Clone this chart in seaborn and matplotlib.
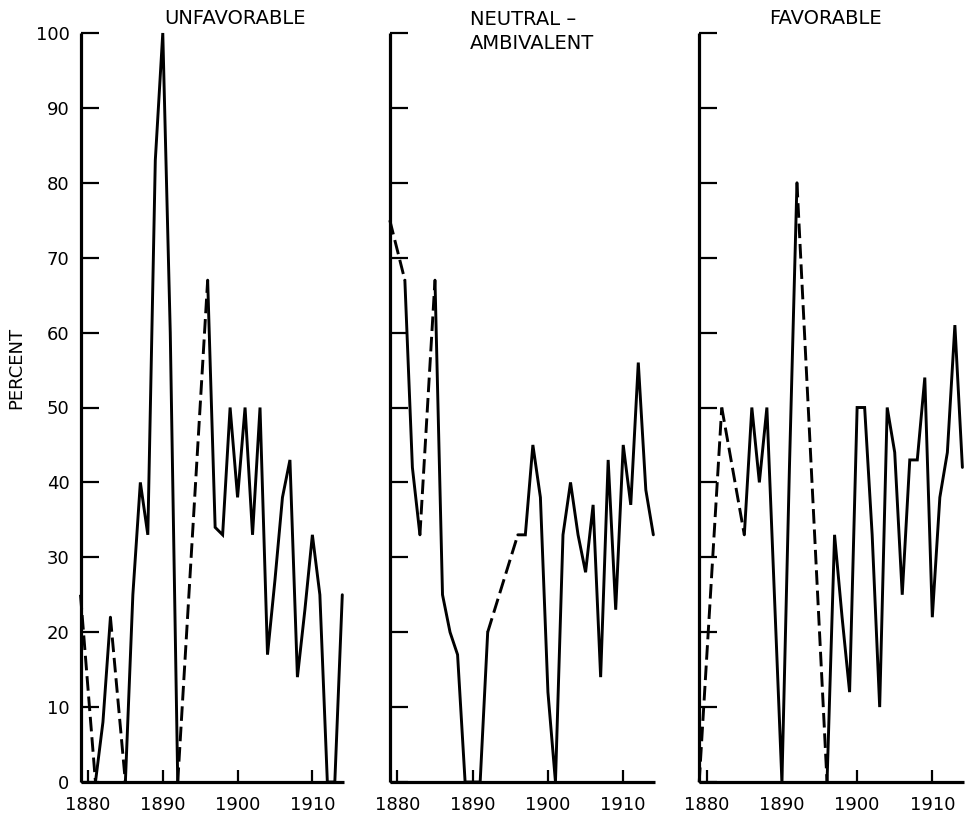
import matplotlib
matplotlib.use("Agg")
import matplotlib.pyplot as plt
import pandas as pd
import seaborn as sns

# ---------------- data ----------------
years = list(range(1879, 1915))
# None = year not plotted (bridged by a dashed line)
unfavorable = [25, None, 0, 8, 22, None, 0, 25, 40, 33, 83, 100, 60, 0,
               None, None, None, 67, 34, 33, 50, 38, 50, 33, 50, 17, 27,
               38, 43, 14, 23, 33, 25, 0, 0, 25]
neutral = [75, None, 67, 42, 33, None, 67, 25, 20, 17, 0, 0, 0, 20,
           None, None, None, 33, 33, 45, 38, 12, 0, 33, 40, 33, 28,
           37, 14, 43, 23, 45, 37, 56, 39, 33]
favorable = [0, None, None, 50, None, None, 33, 50, 40, 50, 25, 0, 42, 80,
             None, None, None, 0, 33, 22, 12, 50, 50, 33, 10, 50, 44,
             25, 43, 43, 54, 22, 38, 44, 61, 42]
panel_titles = ["UNFAVORABLE", "NEUTRAL –\nAMBIVALENT", "FAVORABLE"]
y_ticks = [0, 10, 20, 30, 40, 50, 60, 70, 80, 90, 100]
x_ticks = [1880, 1890, 1900, 1910]
y_label = "PERCENT"

series = [unfavorable, neutral, favorable]


def build_segments(values):
    pts = [(y, v) for y, v in zip(years, values) if v is not None]
    rows = []
    seg = 0
    run = [pts[0]]
    for prev, cur in zip(pts[:-1], pts[1:]):
        if cur[0] - prev[0] == 1:
            run.append(cur)
        else:
            for y, v in run:
                rows.append(dict(year=y, percent=v, seg=seg, kind="solid"))
            seg += 1
            for y, v in (prev, cur):
                rows.append(dict(year=y, percent=v, seg=seg, kind="gap"))
            seg += 1
            run = [cur]
    for y, v in run:
        rows.append(dict(year=y, percent=v, seg=seg, kind="solid"))
    return pd.DataFrame(rows)


# ---------------- figure ----------------
sns.set_style("white")
plt.rcParams["font.family"] = ["DejaVu Sans"]
plt.rcParams["text.color"] = "black"
plt.rcParams["axes.labelcolor"] = "black"
plt.rcParams["xtick.color"] = "black"
plt.rcParams["ytick.color"] = "black"
plt.rcParams["lines.solid_joinstyle"] = "miter"
plt.rcParams["lines.dash_joinstyle"] = "miter"

W, H = 968, 815
fig = plt.figure(figsize=(W / 100, H / 100), dpi=100)

# axes placement in pixels: (x of 1879, px per year)
panels_px = [(80.5, 7.48), (389.8, 7.53), (699.2, 7.52)]
x_lo, x_hi = 1879, 1914.2
y_top_px, y_bot_px = 33, 782

for i, (vals, title, (x0, ppy)) in enumerate(zip(series, panel_titles, panels_px)):
    width = (x_hi - x_lo) * ppy
    ax = fig.add_axes([x0 / W, (H - y_bot_px) / H, width / W,
                       (y_bot_px - y_top_px) / H])
    df = build_segments(vals)
    sns.lineplot(data=df, x="year", y="percent", units="seg", style="kind",
                 dashes={"solid": "", "gap": (5.0, 2.0)}, estimator=None,
                 color="black", linewidth=2.1, legend=False, sort=False,
                 ax=ax)
    for ln in ax.lines:
        ln.set_clip_on(False)
    ax.set_xlim(x_lo, x_hi)
    ax.set_ylim(0, 100)
    ax.set_xticks(x_ticks)
    ax.set_xticklabels([str(t) for t in x_ticks])
    ax.set_yticks(y_ticks)
    ax.set_yticklabels([str(t) for t in y_ticks])
    ax.set_xlabel("")
    ax.set_ylabel("")
    for s in ["top", "right"]:
        ax.spines[s].set_visible(False)
    for s in ["left", "bottom"]:
        ax.spines[s].set_linewidth(2.3)
        ax.spines[s].set_color("black")
        ax.spines[s].set_capstyle("butt")
    ax.tick_params(axis="y", which="major", left=True, direction="in",
                   length=13, width=1.6, labelsize=13, pad=8,
                   color="black", labelcolor="black", labelleft=(i == 0))
    ax.tick_params(axis="x", which="major", bottom=True, direction="in",
                   length=9, width=1.6, labelsize=13, pad=10,
                   color="black", labelcolor="black")
    ax.patch.set_alpha(0)

# titles
fig.text(235 / W, 1 - 18 / H, panel_titles[0], ha="center", va="center",
         fontsize=14)
fig.text(470 / W, 1 - 10 / H, panel_titles[1], ha="left", va="top",
         fontsize=14, linespacing=1.35)
fig.text(825 / W, 1 - 18 / H, panel_titles[2], ha="center", va="center",
         fontsize=14)
fig.text(16 / W, 1 - 368 / H, y_label, rotation=90, ha="center",
         va="center", fontsize=13)

fig.savefig("out.png", dpi=100, facecolor="white")
